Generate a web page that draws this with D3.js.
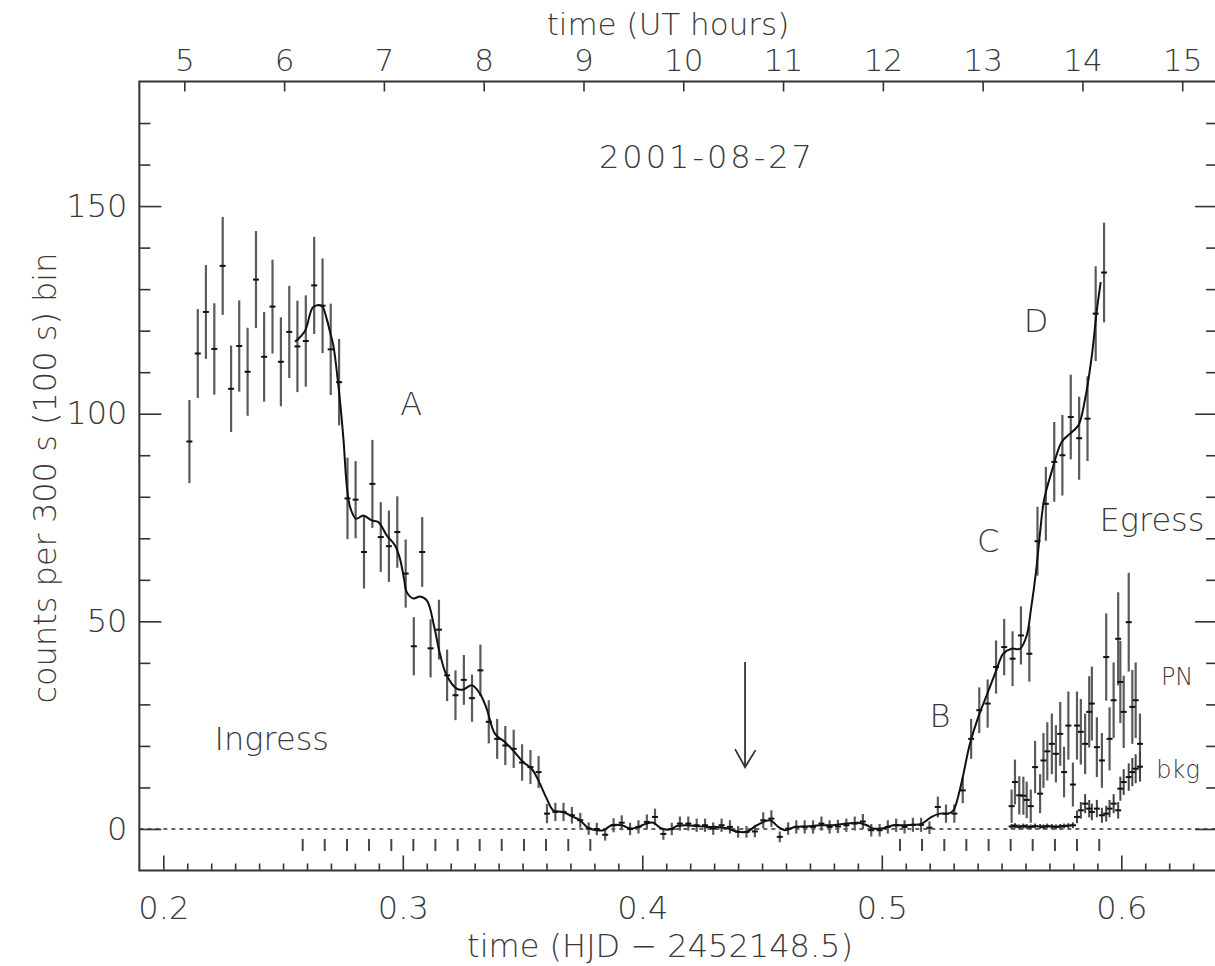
<!DOCTYPE html>
<html><head><meta charset="utf-8">
<script src="https://cdn.jsdelivr.net/npm/d3@7"></script>
<style>
html,body{margin:0;padding:0;background:#fff;}
svg text{font-family:"DejaVu Sans","Liberation Sans",sans-serif;font-weight:200;fill:#3a3a3a;}
</style></head>
<body>
<svg id="chart" width="1215" height="966"></svg>
<script>
// ---------- data ----------
const mainTimes = [0.2109,0.2144,0.2178,0.2213,0.2248,0.2283,0.2317,0.2352,0.2387,0.2421,
0.2456,0.2491,0.2526,0.2560,0.2595,0.2630,0.2665,0.2699,0.2734,0.2769,
0.2803,0.2838,0.2873,0.2908,0.2942,0.2977,0.3012,0.3046,0.3081,0.3116,
0.3151,0.3185,0.3220,0.3255,0.3289,0.3324,0.3359,0.3394,0.3428,0.3463,
0.3498,0.3533,0.3567,0.3602,0.3637,0.3671,0.3706,0.3741,0.3776,0.3810,
0.3845,0.3880,0.3914,0.3949,0.3984,0.4019,0.4053,0.4088,0.4123,0.4157,
0.4192,0.4227,0.4262,0.4296,0.4331,0.4366,0.4400,0.4435,0.4470,0.4505,
0.4539,0.4574,0.4609,0.4643,0.4678,0.4713,0.4748,0.4782,0.4817,0.4852,
0.4887,0.4921,0.4956,0.4991,0.5025,0.5060,0.5095,0.5130,0.5164,0.5199,
0.5234,0.5268,0.5303,0.5338,0.5373,0.5407,0.5442,0.5477,0.5511,0.5546,
0.5581,0.5616,0.5650,0.5685,0.5720,0.5754,0.5789,0.5824,0.5859,0.5893,0.5928];
const mainCounts = [93.3,114.5,124.5,115.6,135.6,106,116.3,110.1,132.3,113.7,
125.8,112.5,119.7,116.2,117.5,130.9,126,115.5,107.6,79.6,
79.3,66.7,83.1,70.3,68.1,71.5,61.5,44,66.7,43.5,
48,37,32.2,35.9,31.5,38.2,25.8,21.7,20.1,19.3,
16.0,14.9,13.7,3.7,4.1,4.1,3.3,2.1,0.1,0,
-1.4,0.9,1.5,0,0.5,1.7,2.9,-1.2,0,1.3,
1.3,0.9,0.9,0.1,0.9,0.5,-0.7,-0.7,-0.6,2.1,
2.5,-1.9,0.1,0.5,0.5,0.5,1.3,0.5,0.6,0.9,
1.3,1.8,-0.3,-0.3,0.5,0.9,0.5,1.0,1.0,0.3,
5.3,3.7,3.7,9.3,21.7,28.6,30.2,39.0,43.8,41.0,
46.6,42.2,69.3,78.3,88.4,90.0,99.2,94.1,98.8,124.1,134];
const mainErrors = [10,10.7,11.3,11,11.8,10.4,11,10.6,11.7,10.8,
11.3,10.7,11.1,11,11,11.7,11.4,11,10.4,9.8,
9.3,8.8,10.6,8.4,8.6,8.6,8.2,7,8.4,7,
7.2,6.2,6,6,5.7,6.2,5.2,4.8,4.7,4.6,
4.4,4.1,3.85,2.3,2.2,2.2,2,1.8,1.5,1.5,
1.4,1.7,1.8,1.5,1.6,1.8,2,1.4,1.5,1.7,
1.7,1.6,1.6,1.5,1.6,1.6,1.4,1.4,1.4,1.9,
2,1.3,1.5,1.6,1.6,1.6,1.7,1.6,1.6,1.6,
1.7,1.8,1.5,1.5,1.6,1.6,1.6,1.7,1.7,1.5,
2.5,2.2,2.2,3.1,4.8,5.5,5.8,6.4,6.8,6.6,
7,6.7,8.3,8.9,9.6,9.7,10.2,10,10.2,11.4,12];

const smoothTimes = [0.2550,0.2592,0.2626,0.2661,0.2682,0.2696,0.2710,0.2731,0.2752,0.2766,
0.2780,0.2805,0.2835,0.2870,0.2898,0.2933,0.2967,0.2988,0.3005,0.3016,
0.3044,0.3072,0.3101,0.3130,0.3155,0.3183,0.3225,0.3253,0.3288,0.3322,
0.3350,0.3385,0.3427,0.3461,0.3503,0.3538,0.3566,0.3601,0.3628,0.3670,
0.3712,0.3740,0.3775,0.3810,0.3837,0.3872,0.3914,0.3949,0.3983,0.4018,
0.4046,0.4081,0.4116,0.4144,0.4185,0.4227,0.4269,0.4311,0.4352,0.4394,
0.4436,0.4478,0.4533,0.4568,0.4596,0.4638,0.4686,0.4742,0.4798,0.4853,
0.4902,0.4937,0.4965,0.5006,0.5048,0.5090,0.5132,0.5167,0.5208,0.5243,
0.5278,0.5299,0.5327,0.5368,0.5403,0.5438,0.5454,0.5477,0.5507,0.5542,
0.5577,0.5605,0.5623,0.5644,0.5661,0.5677,0.5709,0.5751,0.5786,0.5821,
0.5849,0.5877,0.5897,0.5914];
const smoothCounts = [117.3,120,125.7,126,122.9,119.7,116.4,106.8,94,82.7,
77.5,74.7,75.5,74.3,73.9,70.7,68.3,65.1,60.3,57.1,
55.5,56,55,49,42.2,37,33.8,33.6,34.6,32.6,
29,22.9,20.9,18.9,16.1,14.5,11.7,7.3,4.5,4.1,
2.9,2.1,0.2,-0.3,-0.3,0.9,0.9,0.1,0.5,1.3,
1.5,0.1,-0.1,0.7,0.9,0.7,0.5,0.5,0.2,-0.6,
-0.7,0.9,2.1,0.5,-0.3,0.5,0.6,0.9,0.9,1.3,
1.5,0.9,0.1,0.2,0.9,0.9,1.0,1.3,2.9,3.7,
3.7,4.5,9.7,20.5,27,32.2,34.6,38,42.2,43.4,
43.4,46.6,53,62,71.5,79.1,86,93.2,95.2,97.2,
103.6,114,124.5,131.7];

const pnTimes = [0.5542,0.5556,0.5574,0.5591,0.5605,0.5622,0.5640,0.5661,0.5675,0.5691,
0.5710,0.5727,0.5745,0.5761,0.5779,0.5798,0.5815,0.5831,0.5849,0.5866,
0.5877,0.5898,0.5919,0.5937,0.5951,0.5968,0.5987,0.5996,0.6010,0.6031,
0.6046,0.6060,0.6078];
const pnCounts = [5.5,11.3,8.1,8,7,5.5,14.9,8.5,16.5,18.7,
20.5,18.1,22.9,13.7,24.9,10.7,24.9,23.4,20.5,28.2,
30.2,19.7,16.5,41.4,21.7,31,45.8,35.4,28.2,49.8,
29.4,31,20.5];
const pnErrors = [4,5.4,4.6,4.6,4.4,4,6.3,4.7,6.6,7,
7.3,6.9,7.7,6.1,8.2,5.3,8.2,7.9,7.3,8.6,
8.9,7.2,6.6,10.5,7.6,9.1,11.2,9.9,8.7,11.9,
8.9,9.1,7.3];

const bkgTimes = [0.5542,0.5556,0.5574,0.5591,0.5605,0.5622,0.5640,0.5661,0.5675,0.5691,
0.5710,0.5727,0.5745,0.5761,0.5779,0.5798,0.5815,0.5831,0.5849,0.5866,
0.5877,0.5898,0.5919,0.5937,0.5951,0.5968,0.5987,0.5996,0.6010,0.6031,
0.6046,0.6060,0.6078];
const bkgCounts = [0.6,0.8,0.5,0.7,0.6,0.5,0.7,0.6,0.5,0.7,
0.6,0.5,0.6,0.7,0.8,0.9,2.9,4.5,6.1,4.9,
4.1,4.9,3.3,3.7,4.9,6.1,4.5,9.7,11.3,12.5,
13.7,14.5,15];
const bkgErrors = [0.6,0.6,0.6,0.6,0.6,0.6,0.6,0.6,0.6,0.6,
0.6,0.6,0.6,0.6,0.6,0.7,1.5,2,2.3,2.1,
2,2.1,1.8,1.9,2.1,2.3,2,2.9,3.1,3.3,
3.4,3.5,3.6];

const markerTimes = [0.2582,0.2674,0.2767,0.2859,0.2952,0.3044,0.3136,0.3229,0.3321,0.3413,
0.3506,0.3598,0.3691,0.3783,
0.5076,0.5168,0.5261,0.5353,0.5446,0.5538,0.5630,0.5723,0.5815,0.5908];

const xMajorTicks = [0.2,0.3,0.4,0.5,0.6];
const yMajorTicks = [0,50,100,150];
const hourTicks = [5,6,7,8,9,10,11,12,13,14,15];
const hjdMinusUT = 0.00044; // heliocentric offset (days)

const arrowTime = 0.4429, arrowFrom = 40.2, arrowTo = 14.9;

const labels = [
  {text:"2001-08-27", t:0.4270, v:162, size:32, ls:3},
  {text:"A", t:0.3035, v:102.5, size:32},
  {text:"B", t:0.5243, v:27.3, size:32},
  {text:"C", t:0.5444, v:69.5, size:32},
  {text:"D", t:0.5644, v:122.5, size:32},
  {text:"Ingress", t:0.2453, v:21.9, size:32},
  {text:"Egress", t:0.6128, v:74.5, size:32},
  {text:"PN", t:0.6233, v:36.8, size:24},
  {text:"bkg", t:0.6237, v:14.3, size:24}
];

// ---------- layout ----------
const svg = d3.select("#chart");
const x = d3.scaleLinear().domain([0.19, 0.64]).range([139.35, 1217.1]);
const y = d3.scaleLinear().domain([-10, 180]).range([870.5, 81.5]);
const xTop = d3.scaleLinear()
  .domain([(0.19 - hjdMinusUT) * 24, (0.64 - hjdMinusUT) * 24])
  .range([139.35, 1217.1]);

const ink = "#333";
const g = svg.append("g");

// frame
g.append("rect").attr("x", x(0.19)).attr("y", y(180))
  .attr("width", x(0.64) - x(0.19)).attr("height", y(-10) - y(180))
  .attr("fill", "none").attr("stroke", ink).attr("stroke-width", 2);

function styleAxis(sel, fs) {
  sel.select(".domain").remove();
  sel.selectAll(".tick line").attr("stroke", ink).attr("stroke-width", 1.6);
  sel.selectAll(".tick text").attr("font-size", fs).attr("fill", "#3a3a3a")
     .style("font-family", '"DejaVu Sans",sans-serif').style("font-weight", 200);
}

// left axis
const yMinor = d3.range(-10, 181, 10).filter(v => yMajorTicks.indexOf(v) < 0 && v > -10 && v < 180);
styleAxis(g.append("g").attr("transform", `translate(${x(0.19)},0)`)
  .call(d3.axisLeft(y).tickValues(yMinor).tickSize(-11).tickFormat("")), 0);
styleAxis(g.append("g").attr("transform", `translate(${x(0.19)},0)`)
  .call(d3.axisLeft(y).tickValues(yMajorTicks).tickSize(-22).tickPadding(12).tickFormat(d3.format("d"))), 32);
// right axis
styleAxis(g.append("g").attr("transform", `translate(${x(0.64)},0)`)
  .call(d3.axisRight(y).tickValues(yMinor).tickSize(-11).tickFormat("")), 0);
styleAxis(g.append("g").attr("transform", `translate(${x(0.64)},0)`)
  .call(d3.axisRight(y).tickValues(yMajorTicks).tickSize(-22).tickFormat("")), 0);

// bottom axis
const xMinor = d3.range(19, 64).map(v => v / 100).filter(v => xMajorTicks.every(m => Math.abs(m - v) > 1e-6) && v > 0.19);
styleAxis(g.append("g").attr("transform", `translate(0,${y(-10)})`)
  .call(d3.axisBottom(x).tickValues(xMinor).tickSize(-7).tickFormat("")), 0);
const bx = g.append("g").attr("transform", `translate(0,${y(-10)})`)
  .call(d3.axisBottom(x).tickValues(xMajorTicks).tickSize(-15).tickPadding(26).tickFormat(d3.format(".1f")));
styleAxis(bx, 32);

// top axis
const tx = g.append("g").attr("transform", `translate(0,${y(180)})`)
  .call(d3.axisTop(xTop).tickValues(hourTicks).tickSize(-10).tickPadding(11).tickFormat(d3.format("d")));
styleAxis(tx, 31);

// axis titles
g.append("text").attr("x", 668).attr("y", 35).attr("text-anchor", "middle")
  .attr("font-size", 31).text("time (UT hours)");
g.append("text").attr("x", 660).attr("y", 957).attr("text-anchor", "middle")
  .attr("font-size", 32).text("time (HJD \u2212 2452148.5)");
g.append("text").attr("transform", "translate(56,478) rotate(-90)").attr("text-anchor", "middle")
  .attr("font-size", 32).text("counts per 300 s (100 s) bin");

// zero line
g.append("line").attr("x1", x(0.19)).attr("x2", x(0.64)).attr("y1", y(0)).attr("y2", y(0))
  .attr("stroke", ink).attr("stroke-width", 1.5).attr("stroke-dasharray", "4,4");

// marker ticks below zero
g.selectAll("line.mk").data(markerTimes).join("line").attr("class", "mk")
  .attr("x1", d => x(d)).attr("x2", d => x(d))
  .attr("y1", y(0) + 10).attr("y2", y(0) + 22)
  .attr("stroke", "#444").attr("stroke-width", 2);

// error bar series
function drawSeries(times, counts, errs, barColor, barW) {
  const data = times.map((t, i) => ({t, v: counts[i], e: errs[i]}));
  const s = g.append("g");
  s.selectAll("line.eb").data(data).join("line").attr("class", "eb")
    .attr("x1", d => x(d.t)).attr("x2", d => x(d.t))
    .attr("y1", d => y(d.v - d.e)).attr("y2", d => y(d.v + d.e))
    .attr("stroke", barColor).attr("stroke-width", barW);
  s.selectAll("line.pt").data(data).join("line").attr("class", "pt")
    .attr("x1", d => x(d.t) - 3).attr("x2", d => x(d.t) + 3)
    .attr("y1", d => y(d.v)).attr("y2", d => y(d.v))
    .attr("stroke", "#111").attr("stroke-width", 2);
}
drawSeries(mainTimes, mainCounts, mainErrors, "#5a5a5a", 2.2);
drawSeries(pnTimes, pnCounts, pnErrors, "#5a5a5a", 2.2);
drawSeries(bkgTimes, bkgCounts, bkgErrors, "#444", 2);

// smooth curve
const line = d3.line().x(d => x(d[0])).y(d => y(d[1])).curve(d3.curveCatmullRom.alpha(0.5));
g.append("path").datum(smoothTimes.map((t, i) => [t, smoothCounts[i]]))
  .attr("d", line).attr("fill", "none").attr("stroke", "#111").attr("stroke-width", 2);

// arrow
const ax = x(arrowTime), ay1 = y(arrowFrom), ay2 = y(arrowTo);
g.append("line").attr("x1", ax).attr("x2", ax).attr("y1", ay1).attr("y2", ay2)
  .attr("stroke", ink).attr("stroke-width", 1.8);
g.append("path").attr("d", `M${ax - 10},${ay2 - 18}L${ax},${ay2}L${ax + 10.5},${ay2 - 17}`)
  .attr("fill", "none").attr("stroke", ink).attr("stroke-width", 1.8);

// labels
g.selectAll("text.lbl").data(labels).join("text").attr("class", "lbl")
  .attr("x", d => x(d.t)).attr("y", d => y(d.v)).attr("dy", "0.36em")
  .attr("text-anchor", "middle").attr("font-size", d => d.size)
  .attr("letter-spacing", d => d.ls || 0).text(d => d.text);
</script>
</body></html>
